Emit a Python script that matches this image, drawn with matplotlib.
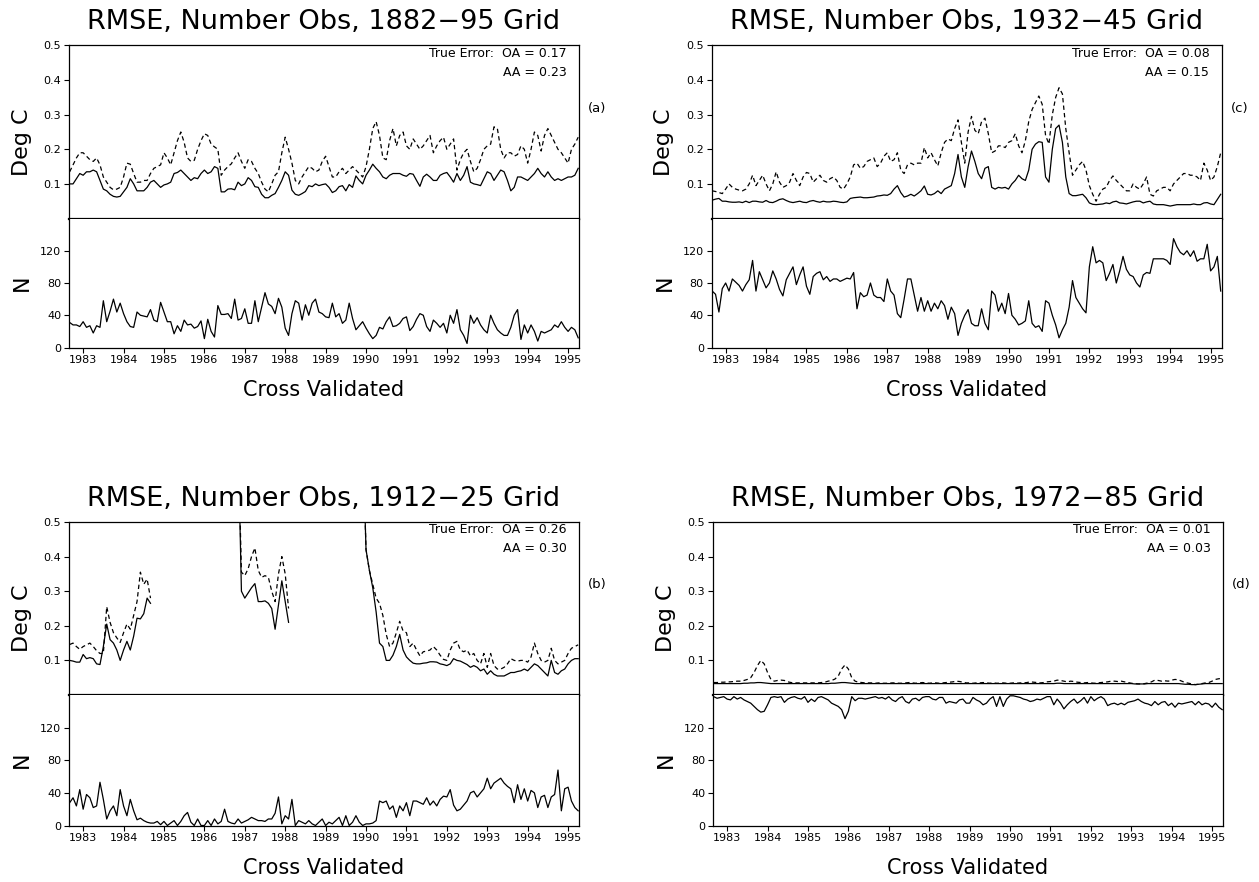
import numpy as np
import matplotlib.pyplot as plt

nan = np.nan

# --- data: monthly values, Sep 1982 .. Apr 1995 (one row per calendar year) ---
months = 1982 + 8 / 12 + np.arange(152) / 12
years = list(range(1983, 1996))

# (a) 1882-95 grid
oa_a = [0.10, 0.10, 0.115, 0.13,
        0.125, 0.135, 0.135, 0.14, 0.135, 0.11, 0.085, 0.08, 0.07, 0.064, 0.062, 0.064,
        0.077, 0.09, 0.115, 0.10, 0.08, 0.08, 0.08, 0.09, 0.105, 0.11, 0.10, 0.09,
        0.097, 0.10, 0.105, 0.13, 0.133, 0.14, 0.13, 0.12, 0.11, 0.118, 0.115, 0.13,
        0.14, 0.13, 0.135, 0.15, 0.145, 0.077, 0.077, 0.085, 0.086, 0.083, 0.105, 0.095,
        0.10, 0.118, 0.11, 0.092, 0.09, 0.07, 0.06, 0.06, 0.067, 0.072, 0.09, 0.11,
        0.135, 0.125, 0.082, 0.07, 0.067, 0.072, 0.078, 0.095, 0.092, 0.10, 0.095, 0.098,
        0.10, 0.09, 0.075, 0.08, 0.092, 0.095, 0.08, 0.098, 0.09, 0.123, 0.11, 0.10,
        0.125, 0.14, 0.157, 0.145, 0.135, 0.12, 0.115, 0.125, 0.13, 0.13, 0.13, 0.125,
        0.122, 0.13, 0.128, 0.11, 0.093, 0.12, 0.128, 0.12, 0.11, 0.11, 0.125, 0.13,
        0.133, 0.12, 0.105, 0.13, 0.11, 0.125, 0.15, 0.105, 0.10, 0.098, 0.095, 0.115,
        0.135, 0.13, 0.11, 0.125, 0.14, 0.135, 0.11, 0.08, 0.09, 0.12, 0.12, 0.115,
        0.11, 0.12, 0.13, 0.145, 0.13, 0.12, 0.135, 0.12, 0.11, 0.115, 0.11, 0.115,
        0.12, 0.12, 0.125, 0.145]
aa_a = [0.135, 0.155, 0.175, 0.19,
        0.19, 0.18, 0.17, 0.165, 0.175, 0.155, 0.12, 0.105, 0.09, 0.083, 0.085, 0.09,
        0.12, 0.16, 0.157, 0.13, 0.105, 0.105, 0.11, 0.11, 0.13, 0.145, 0.15, 0.155,
        0.19, 0.175, 0.155, 0.19, 0.225, 0.25, 0.22, 0.175, 0.165, 0.168, 0.2, 0.225,
        0.245, 0.24, 0.215, 0.207, 0.2, 0.125, 0.14, 0.15, 0.158, 0.175, 0.19, 0.165,
        0.145, 0.17, 0.165, 0.145, 0.13, 0.105, 0.085, 0.077, 0.1, 0.125, 0.135, 0.19,
        0.235, 0.2, 0.16, 0.11, 0.1, 0.12, 0.135, 0.15, 0.145, 0.135, 0.14, 0.165,
        0.18, 0.15, 0.12, 0.12, 0.135, 0.145, 0.13, 0.14, 0.15, 0.14, 0.13, 0.12,
        0.15, 0.2, 0.26, 0.28, 0.24, 0.175, 0.17, 0.225, 0.26, 0.21, 0.24, 0.25,
        0.21, 0.2, 0.23, 0.215, 0.2, 0.21, 0.225, 0.24, 0.19, 0.21, 0.225, 0.235,
        0.2, 0.215, 0.23, 0.14, 0.17, 0.19, 0.2, 0.165, 0.135, 0.145, 0.17, 0.2,
        0.21, 0.215, 0.265, 0.26, 0.2, 0.175, 0.19, 0.19, 0.18, 0.185, 0.21, 0.2,
        0.16, 0.2, 0.25, 0.24, 0.195, 0.24, 0.26, 0.24, 0.22, 0.2, 0.19, 0.175,
        0.16, 0.2, 0.215, 0.235]
n_a = [31, 28, 28, 26,
       32, 25, 27, 18, 27, 25, 58, 32, 45, 60, 44, 55,
       42, 32, 26, 25, 44, 40, 39, 38, 47, 34, 32, 56,
       44, 32, 32, 17, 27, 20, 34, 28, 29, 24, 26, 33,
       11, 35, 20, 13, 52, 41, 41, 42, 36, 60, 34, 36,
       48, 30, 30, 58, 32, 50, 68, 54, 51, 42, 61, 50,
       24, 15, 42, 58, 55, 34, 53, 40, 55, 60, 44, 42,
       38, 37, 55, 38, 42, 30, 34, 55, 36, 22, 27, 32,
       24, 17, 11, 15, 25, 23, 32, 38, 26, 27, 30, 36,
       38, 21, 26, 35, 42, 40, 26, 20, 34, 30, 25, 30,
       18, 40, 30, 47, 22, 15, 5, 40, 30, 37, 28, 22,
       18, 40, 30, 22, 18, 15, 15, 25, 40, 47, 10, 28,
       18, 28, 20, 8, 20, 18, 20, 22, 28, 25, 32, 25,
       20, 25, 22, 12]

# (b) 1912-25 grid (values above 0.5 run off the top of the panel)
oa_b = [0.10, 0.098, 0.095, 0.095,
        0.117, 0.105, 0.108, 0.105, 0.09, 0.088, 0.14, 0.205, 0.16, 0.15, 0.13, 0.10,
        0.13, 0.155, 0.13, 0.17, 0.222, 0.22, 0.235, 0.28, 0.265, nan, nan, nan,
        nan, nan, nan, nan, nan, nan, nan, nan, nan, nan, nan, nan,
        nan, nan, nan, nan, nan, nan, nan, nan, nan, nan, 0.75, 0.30,
        0.28, 0.295, 0.31, 0.322, 0.27, 0.27, 0.272, 0.265, 0.25, 0.19, 0.26, 0.33,
        0.27, 0.21, nan, nan, nan, nan, nan, nan, nan, nan, nan, nan,
        nan, nan, nan, nan, nan, nan, nan, nan, nan, nan, nan, 0.75,
        0.42, 0.36, 0.31, 0.24, 0.15, 0.14, 0.10, 0.10, 0.115, 0.14, 0.175, 0.13,
        0.11, 0.10, 0.092, 0.09, 0.09, 0.092, 0.093, 0.096, 0.096, 0.095, 0.09, 0.088,
        0.085, 0.09, 0.105, 0.10, 0.098, 0.093, 0.088, 0.08, 0.085, 0.08, 0.07, 0.075,
        0.06, 0.07, 0.06, 0.055, 0.055, 0.055, 0.06, 0.065, 0.065, 0.068, 0.07, 0.075,
        0.07, 0.08, 0.09, 0.085, 0.075, 0.065, 0.055, 0.10, 0.065, 0.06, 0.07, 0.075,
        0.09, 0.10, 0.105, 0.105]
aa_b = [0.146, 0.15, 0.14, 0.132,
        0.14, 0.145, 0.15, 0.14, 0.128, 0.12, 0.12, 0.255, 0.21, 0.18, 0.165, 0.152,
        0.18, 0.205, 0.19, 0.23, 0.27, 0.355, 0.32, 0.335, 0.28, nan, nan, nan,
        nan, nan, nan, nan, nan, nan, nan, nan, nan, nan, nan, nan,
        nan, nan, nan, nan, nan, nan, nan, nan, nan, nan, 0.75, 0.355,
        0.345, 0.365, 0.40, 0.425, 0.36, 0.34, 0.345, 0.34, 0.30, 0.27, 0.35, 0.40,
        0.35, 0.25, nan, nan, nan, nan, nan, nan, nan, nan, nan, nan,
        nan, nan, nan, nan, nan, nan, nan, nan, nan, nan, nan, 0.75,
        0.42, 0.36, 0.32, 0.28, 0.265, 0.23, 0.175, 0.14, 0.15, 0.18, 0.213, 0.185,
        0.18, 0.14, 0.15, 0.13, 0.113, 0.125, 0.127, 0.13, 0.14, 0.13, 0.115, 0.103,
        0.10, 0.13, 0.15, 0.155, 0.13, 0.125, 0.13, 0.113, 0.12, 0.10, 0.09, 0.12,
        0.08, 0.12, 0.085, 0.075, 0.075, 0.08, 0.09, 0.105, 0.10, 0.098, 0.10, 0.10,
        0.095, 0.11, 0.15, 0.12, 0.10, 0.095, 0.10, 0.135, 0.10, 0.09, 0.095, 0.10,
        0.12, 0.135, 0.14, 0.145]
n_b = [28, 34, 24, 44,
       20, 38, 34, 22, 24, 53, 32, 8, 18, 24, 12, 44,
       24, 12, 32, 18, 7, 9, 6, 4, 3, 3, 5, 1,
       5, 0, 3, 6, 0, 5, 12, 16, 4, 0, 8, 0,
       0, 6, 0, 8, 2, 5, 20, 5, 3, 2, 8, 3,
       5, 7, 10, 8, 6, 6, 5, 8, 8, 15, 35, 2,
       12, 8, 32, 0, 6, 4, 2, 6, 2, 0, 4, 8,
       0, 4, 2, 6, 10, 0, 12, 0, 4, 12, 4, 0,
       2, 2, 3, 6, 30, 28, 30, 20, 24, 10, 24, 18,
       28, 12, 30, 30, 28, 26, 34, 25, 30, 24, 32, 36,
       35, 44, 25, 18, 20, 25, 30, 40, 42, 35, 40, 45,
       58, 45, 52, 55, 58, 52, 48, 45, 28, 50, 32, 45,
       30, 43, 40, 22, 35, 37, 22, 35, 38, 68, 18, 45,
       47, 30, 22, 18]

# (c) 1932-45 grid
oa_c = [0.053, 0.056, 0.058, 0.05,
        0.05, 0.048, 0.047, 0.047, 0.048, 0.046, 0.05, 0.046, 0.05, 0.05, 0.048, 0.047,
        0.052, 0.047, 0.046, 0.05, 0.055, 0.057, 0.052, 0.048, 0.046, 0.048, 0.05, 0.047,
        0.046, 0.05, 0.052, 0.049, 0.047, 0.05, 0.048, 0.048, 0.05, 0.049, 0.047, 0.046,
        0.048, 0.058, 0.06, 0.061, 0.062, 0.06, 0.06, 0.061, 0.062, 0.065, 0.066, 0.068,
        0.067, 0.072, 0.085, 0.095, 0.075, 0.062, 0.065, 0.07, 0.065, 0.072, 0.08, 0.094,
        0.07, 0.068, 0.072, 0.08, 0.072, 0.085, 0.09, 0.095, 0.13, 0.185, 0.12, 0.09,
        0.15, 0.195, 0.165, 0.13, 0.115, 0.145, 0.15, 0.09, 0.085, 0.09, 0.088, 0.09,
        0.085, 0.10, 0.11, 0.125, 0.115, 0.11, 0.14, 0.20, 0.215, 0.222, 0.22, 0.12,
        0.105, 0.20, 0.26, 0.27, 0.22, 0.12, 0.072, 0.066, 0.066, 0.068, 0.07, 0.06,
        0.045, 0.041, 0.04, 0.041, 0.042, 0.045, 0.043, 0.048, 0.05, 0.045, 0.044, 0.042,
        0.045, 0.048, 0.05, 0.05, 0.045, 0.048, 0.05, 0.042, 0.04, 0.04, 0.04, 0.038,
        0.036, 0.038, 0.04, 0.04, 0.04, 0.04, 0.04, 0.042, 0.04, 0.04, 0.045, 0.046,
        0.042, 0.04, 0.055, 0.07]
aa_c = [0.08, 0.078, 0.075, 0.072,
        0.085, 0.10, 0.09, 0.085, 0.082, 0.08, 0.085, 0.10, 0.125, 0.095, 0.11, 0.125,
        0.10, 0.08, 0.10, 0.135, 0.105, 0.09, 0.095, 0.105, 0.13, 0.11, 0.095, 0.12,
        0.133, 0.13, 0.105, 0.115, 0.125, 0.11, 0.105, 0.115, 0.12, 0.11, 0.09, 0.085,
        0.10, 0.12, 0.155, 0.16, 0.145, 0.15, 0.165, 0.17, 0.175, 0.15, 0.16, 0.18,
        0.19, 0.165, 0.17, 0.19, 0.14, 0.13, 0.155, 0.16, 0.155, 0.16, 0.16, 0.205,
        0.175, 0.19, 0.17, 0.152, 0.19, 0.22, 0.23, 0.225, 0.26, 0.285, 0.22, 0.16,
        0.25, 0.295, 0.255, 0.245, 0.28, 0.29, 0.245, 0.19, 0.195, 0.21, 0.21, 0.205,
        0.22, 0.225, 0.245, 0.21, 0.19, 0.225, 0.28, 0.315, 0.335, 0.354, 0.33, 0.24,
        0.215, 0.30, 0.35, 0.378, 0.36, 0.26, 0.19, 0.125, 0.14, 0.155, 0.165, 0.14,
        0.095, 0.07, 0.05, 0.07, 0.085, 0.09, 0.11, 0.123, 0.11, 0.10, 0.09, 0.08,
        0.08, 0.10, 0.09, 0.085, 0.10, 0.12, 0.07, 0.065, 0.08, 0.085, 0.09, 0.09,
        0.08, 0.10, 0.11, 0.12, 0.13, 0.13, 0.125, 0.125, 0.12, 0.11, 0.16, 0.14,
        0.11, 0.12, 0.15, 0.19]
n_c = [70, 66, 44, 73,
       80, 70, 85, 81, 77, 70, 78, 84, 108, 70, 94, 84,
       74, 80, 95, 85, 72, 64, 84, 92, 100, 78, 90, 100,
       76, 66, 88, 92, 94, 84, 88, 82, 85, 85, 82, 84,
       86, 85, 93, 48, 68, 63, 65, 80, 65, 62, 62, 57,
       85, 70, 65, 42, 37, 60, 85, 85, 65, 45, 62, 45,
       58, 45, 55, 48, 58, 52, 35, 50, 42, 15, 30, 40,
       47, 30, 27, 27, 48, 30, 22, 70, 65, 45, 55, 42,
       67, 40, 35, 28, 30, 33, 58, 30, 25, 27, 20, 58,
       55, 40, 28, 12, 22, 30, 50, 83, 62, 55, 48, 43,
       100, 125, 105, 108, 105, 83, 92, 103, 80, 95, 113, 97,
       90, 88, 80, 75, 90, 93, 92, 110, 110, 110, 110, 108,
       103, 135, 125, 118, 115, 120, 113, 120, 107, 110, 110, 128,
       95, 100, 113, 70]

# (d) 1972-85 grid
oa_d = [0.033, 0.033, 0.033, 0.033,
        0.033, 0.033, 0.033, 0.033, 0.033, 0.034, 0.034, 0.035, 0.035, 0.036, 0.036, 0.035,
        0.034, 0.033, 0.033, 0.033, 0.033, 0.033, 0.033, 0.033, 0.033, 0.033, 0.033, 0.033,
        0.033, 0.033, 0.033, 0.033, 0.033, 0.033, 0.033, 0.034, 0.034, 0.035, 0.036, 0.036,
        0.035, 0.034, 0.033, 0.033, 0.033, 0.033, 0.033, 0.033, 0.033, 0.033, 0.033, 0.033,
        0.033, 0.033, 0.033, 0.033, 0.033, 0.033, 0.033, 0.033, 0.033, 0.033, 0.033, 0.033,
        0.033, 0.033, 0.033, 0.033, 0.033, 0.033, 0.033, 0.033, 0.033, 0.033, 0.033, 0.033,
        0.033, 0.033, 0.033, 0.033, 0.033, 0.033, 0.033, 0.033, 0.033, 0.033, 0.033, 0.033,
        0.033, 0.033, 0.033, 0.033, 0.033, 0.033, 0.033, 0.033, 0.033, 0.033, 0.033, 0.033,
        0.033, 0.033, 0.034, 0.034, 0.033, 0.033, 0.033, 0.033, 0.033, 0.033, 0.033, 0.033,
        0.033, 0.033, 0.033, 0.033, 0.033, 0.033, 0.033, 0.033, 0.033, 0.033, 0.033, 0.033,
        0.033, 0.032, 0.032, 0.032, 0.032, 0.033, 0.033, 0.033, 0.033, 0.033, 0.033, 0.033,
        0.033, 0.033, 0.033, 0.032, 0.031, 0.031, 0.030, 0.030, 0.031, 0.032, 0.033, 0.033,
        0.033, 0.033, 0.033, 0.033]
aa_d = [0.036, 0.036, 0.037, 0.037,
        0.038, 0.038, 0.039, 0.04, 0.04, 0.042, 0.045, 0.05, 0.065, 0.085, 0.10, 0.09,
        0.065, 0.045, 0.04, 0.042, 0.043, 0.042, 0.038, 0.036, 0.035, 0.035, 0.035, 0.035,
        0.035, 0.035, 0.035, 0.035, 0.036, 0.037, 0.04, 0.042, 0.046, 0.055, 0.075, 0.087,
        0.075, 0.05, 0.04, 0.037, 0.036, 0.035, 0.035, 0.035, 0.034, 0.035, 0.034, 0.034,
        0.034, 0.035, 0.035, 0.034, 0.034, 0.035, 0.036, 0.035, 0.034, 0.035, 0.036, 0.035,
        0.034, 0.035, 0.035, 0.034, 0.035, 0.036, 0.037, 0.038, 0.04, 0.039, 0.037, 0.035,
        0.035, 0.034, 0.035, 0.035, 0.036, 0.035, 0.034, 0.035, 0.034, 0.034, 0.035, 0.034,
        0.034, 0.035, 0.034, 0.035, 0.035, 0.036, 0.038, 0.037, 0.036, 0.035, 0.036, 0.038,
        0.039, 0.04, 0.043, 0.042, 0.04, 0.038, 0.04, 0.039, 0.037, 0.036, 0.035, 0.036,
        0.035, 0.034, 0.035, 0.036, 0.037, 0.038, 0.04, 0.04, 0.039, 0.04, 0.038, 0.036,
        0.034, 0.033, 0.032, 0.032, 0.033, 0.035, 0.038, 0.043, 0.042, 0.04, 0.041, 0.04,
        0.043, 0.045, 0.044, 0.04, 0.036, 0.034, 0.032, 0.03, 0.031, 0.033, 0.035, 0.036,
        0.04, 0.045, 0.047, 0.048]
n_d = [158, 156, 157, 158,
       155, 154, 158, 155, 157, 154, 152, 150, 146, 142, 139, 140,
       148, 157, 158, 157, 158, 151, 155, 157, 158, 156, 155, 158,
       151, 155, 152, 157, 158, 156, 154, 150, 148, 146, 142, 131,
       140, 158, 153, 156, 156, 155, 156, 157, 158, 156, 157, 155,
       158, 154, 152, 156, 158, 152, 150, 155, 156, 153, 157, 158,
       158, 155, 154, 157, 157, 150, 152, 151, 150, 154, 155, 150,
       150, 157, 154, 152, 148, 150, 155, 158, 146, 158, 146, 155,
       159, 159, 158, 157, 155, 154, 152, 153, 155, 154, 156, 158,
       158, 148, 155, 150, 143, 148, 152, 155, 150, 153, 157, 150,
       158, 153, 156, 158, 155, 147, 149, 150, 148, 150, 148, 151,
       152, 153, 155, 152, 150, 149, 147, 152, 148, 151, 152, 147,
       150, 145, 150, 149, 150, 151, 152, 148, 152, 148, 150, 149,
       145, 150, 145, 142]

# title period, panel tag, series, true errors (OA, AA), layout key
panels = [
    ("1882\u221295", "(a)", oa_a, aa_a, n_a, "0.17", "0.23", "a"),
    ("1912\u221225", "(b)", oa_b, aa_b, n_b, "0.26", "0.30", "b"),
    ("1932\u221245", "(c)", oa_c, aa_c, n_c, "0.08", "0.15", "c"),
    ("1972\u221285", "(d)", oa_d, aa_d, n_d, "0.01", "0.03", "d"),
]

# --- layout in pixels: left, right, top, divider, bottom ---
W, H = 1259, 882
layout = {
    "a": (69, 579, 45.5, 218.5, 347.5),
    "c": (711.5, 1221.5, 45.5, 218.5, 347.5),
    "b": (69, 579, 522, 695, 825.5),
    "d": (713, 1223, 522, 695, 825.5),
}


def box(x0, x1, ytop, ybot):
    return [x0 / W, 1 - ybot / H, (x1 - x0) / W, (ybot - ytop) / H]


plt.rcParams['font.family'] = 'DejaVu Sans'
fig = plt.figure(figsize=(W / 100, H / 100), dpi=100)

for period, tag, oa, aa, nobs, e_oa, e_aa, key in panels:
    l, r, top, div, bot = layout[key]
    ax_t = fig.add_axes(box(l, r, top, div))
    ax_b = fig.add_axes(box(l, r, div, bot))

    # RMSE: solid = OA, dashed = AA
    ax_t.plot(months, oa, color='black', lw=0.9)
    ax_t.plot(months, aa, color='black', lw=0.9, ls=(0, (3.5, 2.5)))
    ax_t.set_xlim(1982.65, 1995.27)
    ax_t.set_ylim(0, 0.5)
    ax_t.set_yticks([0.1, 0.2, 0.3, 0.4, 0.5])
    ax_t.set_yticklabels(['0.1', '0.2', '0.3', '0.4', '0.5'])
    ax_t.set_xticks([])
    ax_t.spines['bottom'].set_linewidth(1.6)

    # number of observations
    ax_b.plot(months, nobs, color='black', lw=0.9)
    ax_b.set_xlim(1982.65, 1995.27)
    ax_b.set_ylim(0, 160)
    ax_b.set_yticks([0, 40, 80, 120])
    ax_b.set_xticks(years)
    ax_b.set_xticklabels([str(y) for y in years])
    ax_b.spines['top'].set_visible(False)

    for ax in (ax_t, ax_b):
        ax.tick_params(direction='out', length=3.5, width=0.8, labelsize=8, pad=2)
        for s in ('left', 'right', 'top'):
            ax.spines[s].set_linewidth(0.9)
    ax_b.spines['bottom'].set_linewidth(0.9)

    cx = (l + r) / 2 / W
    fig.text(cx, 1 - (top - 23) / H, f"RMSE, Number Obs, {period} Grid",
             ha='center', va='center', fontsize=19.5)
    fig.text(cx, 1 - (bot + 42.5) / H, "Cross Validated",
             ha='center', va='center', fontsize=15)
    fig.text((l - 47) / W, 1 - ((top + div) / 2 + 10) / H, "Deg C",
             rotation=90, ha='center', va='center', fontsize=16)
    fig.text((l - 47) / W, 1 - ((div + bot) / 2) / H, "N",
             rotation=90, ha='center', va='center', fontsize=16)

    ax_t.text(1.018, 0.636, tag, transform=ax_t.transAxes,
              ha='left', va='center', fontsize=9.5)
    ax_t.text(0.976, 0.955, f"True Error:  OA = {e_oa}", transform=ax_t.transAxes,
              ha='right', va='center', fontsize=9)
    ax_t.text(0.976, 0.845, f"AA = {e_aa}", transform=ax_t.transAxes,
              ha='right', va='center', fontsize=9)

fig.savefig("out.png", dpi=100)
